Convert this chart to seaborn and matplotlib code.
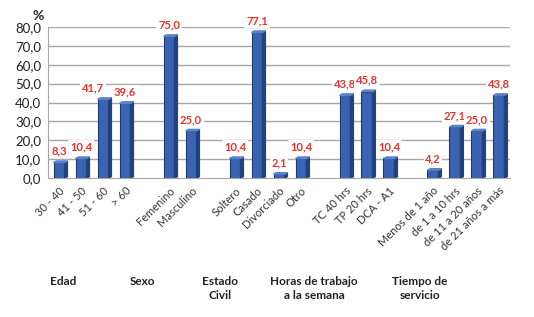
import numpy as np
import pandas as pd
import matplotlib
matplotlib.use("Agg")
import matplotlib.pyplot as plt
import seaborn as sns

# Datos del gráfico
grupos = ["Edad", "Sexo", "Estado\nCivil", "Horas de trabajo\na la semana", "Tiempo de\nservicio"]
categorias = [
    ["30 - 40", "41 - 50", "51 - 60", "> 60"],
    ["Femenino", "Masculino"],
    ["Soltero", "Casado", "Divorciado", "Otro"],
    ["TC 40 hrs", "TP 20 hrs", "DCA - A1"],
    ["Menos de 1 año", "de 1 a 10 hrs", "de 11 a 20 años", "de 21 años a más"],
]
valores = [
    [8.3, 10.4, 41.7, 39.6],
    [75.0, 25.0],
    [10.4, 77.1, 2.1, 10.4],
    [43.8, 45.8, 10.4],
    [4.2, 27.1, 25.0, 43.8],
]

# posiciones: un hueco entre grupos
filas = []
pos = 0
centros = []
for g, cats, vals in zip(grupos, categorias, valores):
    inicio = pos
    for c, v in zip(cats, vals):
        filas.append({"pos": pos, "cat": c, "valor": v, "grupo": g})
        pos += 1
    centros.append((inicio + pos - 1) / 2)
    pos += 1
df = pd.DataFrame(filas)
ultimo = df["pos"].max()

# pequeño ajuste de etiquetas que se pisan (como hace Excel)
ajuste_x = {2: -0.45}
# los títulos de grupo quedan algo a la izquierda (bajo las etiquetas giradas)
desplaz_grupo = [-1.3, -1.7, -2.2, -2.4, -2.1]

sns.set_style("white")
plt.rcParams['font.family'] = ['Lato', 'DejaVu Sans']

fig = plt.figure(figsize=(5.34, 3.17), dpi=100)
ax = fig.add_axes([0.09, 0.438, 0.865, 0.477])

gris = "#a6a6a6"
for y in np.arange(10, 81, 10):
    ax.axhline(y, color=gris, lw=1.0, zorder=0)

sns.barplot(data=df, x="pos", y="valor", native_scale=True, width=0.5,
            color="#3a63b3", edgecolor="#1d3a75", linewidth=0.8, ax=ax,
            saturation=1, errorbar=None, zorder=2)

# efecto 3D: cara lateral oscura
for p in ax.patches:
    x0, w, h = p.get_x(), p.get_width(), p.get_height()
    ax.fill([x0 + w, x0 + w + 0.13, x0 + w + 0.13, x0 + w],
            [0, 0.8, h + 0.8, h], color="#22427f", zorder=2)
    ax.fill([x0, x0 + 0.13, x0 + w + 0.13, x0 + w],
            [h, h + 0.8, h + 0.8, h], color="#5a82cc", zorder=2)

for i, r in df.iterrows():
    ax.text(r["pos"] + ajuste_x.get(i, 0), r["valor"] + 3.2,
            f"{r['valor']:.1f}".replace(".", ","),
            ha="center", va="bottom", color="#e8322d", fontsize=8,
            fontweight="bold", zorder=3,
            bbox=dict(boxstyle="square,pad=0.15", fc="white", ec="none"))

ax.set_xlim(-0.5, ultimo + 0.5)
ax.set_ylim(0, 80)
ax.set_yticks(np.arange(0, 81, 10))
ax.set_yticklabels([f"{v:.1f}".replace(".", ",") for v in np.arange(0, 81, 10)],
                   fontsize=9.5, color="#222222")
ax.set_xticks(df["pos"])
ax.set_xticklabels(df["cat"], rotation=45, ha="right", rotation_mode="anchor",
                   fontsize=8, color="#333333")
ax.set_xticks(np.arange(-0.5, ultimo + 1, 1), minor=True)
ax.tick_params(axis="x", which="major", length=0, pad=5)
ax.tick_params(axis="x", which="minor", length=4, color=gris, direction="out")
ax.tick_params(axis="y", length=3, color=gris, pad=2)
ax.set_xlabel("")
ax.set_ylabel("")
for s in ["top", "right"]:
    ax.spines[s].set_visible(False)
for s in ["left", "bottom"]:
    ax.spines[s].set_color(gris)

ax.text(-0.022, 1.035, "%", transform=ax.transAxes, fontsize=10,
        fontweight="bold", ha="center", va="bottom")

for g, c, d in zip(grupos, centros, desplaz_grupo):
    ax.text(c + d, -52, g, ha="center", va="top", fontsize=8.5, fontweight="bold",
            color="#222222", linespacing=1.3, clip_on=False)

fig.savefig("out.png", dpi=100)
